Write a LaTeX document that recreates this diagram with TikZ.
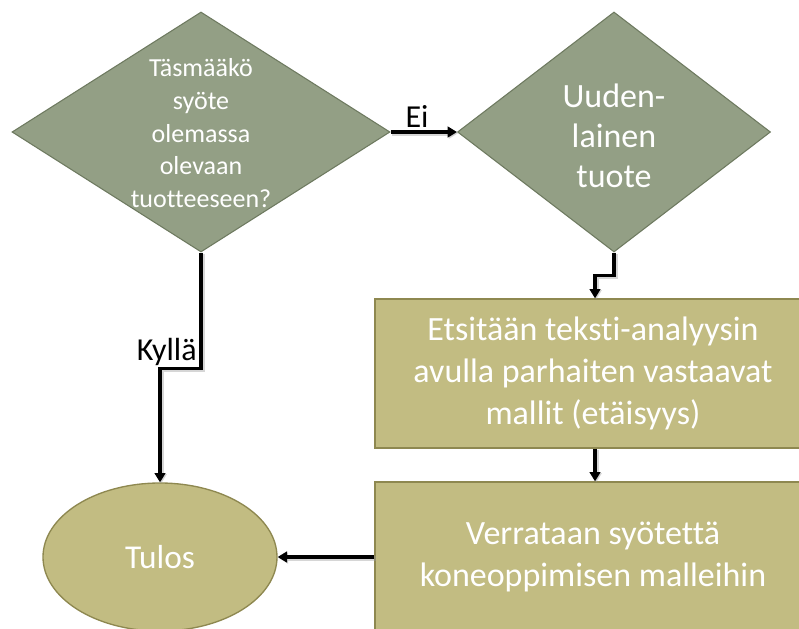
\documentclass[tikz,border=0pt]{standalone}
\usepackage{fontspec}
\setmainfont{Carlito}[Ligatures={NoCommon}]
\usetikzlibrary{shapes.geometric,arrows.meta}
\definecolor{diafill}{HTML}{939F85}
\definecolor{diaedge}{HTML}{6E7A60}
\definecolor{boxfill}{HTML}{C2BC82}
\definecolor{boxedge}{HTML}{8E8850}
\tikzset{
  dia/.style={diamond, draw=diaedge, fill=diafill, line width=0.8pt, inner sep=0pt},
  box/.style={rectangle, draw=boxedge, fill=boxfill, line width=1pt, inner sep=0pt,
    text=white, align=center, font=\fontsize{25.5}{31.5}\selectfont},
  ovalbox/.style={ellipse, draw=boxedge, fill=boxfill, line width=1pt, inner sep=0pt,
    text=white, font=\fontsize{25}{30}\selectfont},
  smalltxt/.style={text=white, align=center, font=\fontsize{19.5}{24.5}\selectfont},
  bigtxt/.style={text=white, align=center, font=\fontsize{25.5}{30}\selectfont},
  conn/.style={line width=2.6pt, -{Triangle[length=7pt,width=8pt]},
    preaction={draw=black!40, opacity=0.4, line width=3.6pt,
      transform canvas={shift={(0.9pt,-0.9pt)}}}},
  lbl/.style={text=black, inner sep=2pt, font=\fontsize{24}{28}\selectfont}
}
\begin{document}
\begin{tikzpicture}[x=0.75pt, y=-0.75pt]
  \useasboundingbox (0,0) rectangle (799,628);
  \clip (0,0) rectangle (799,628);

  \node[dia, minimum width=283.5pt, minimum height=180pt,
    label={[smalltxt, yshift=-1pt]center:Täsmääkö\\syöte\\olemassa\\olevaan\\tuotteeseen?}]
    (d1) at (201,132) {};
  \node[dia, minimum width=234.75pt, minimum height=180pt,
    label={[bigtxt, yshift=-3pt]center:Uuden-\\lainen\\tuote}]
    (d2) at (614,132) {};
  \node[box, minimum width=327pt, minimum height=111.75pt] (r1) at (593,373.5)
    {Etsitään teksti-analyysin\\avulla parhaiten vastaavat\\mallit (etäisyys)};
  \node[box, minimum width=327pt, minimum height=112.5pt] (r2) at (593,557)
    {Verrataan syötettä\\koneoppimisen malleihin};
  \node[ovalbox, minimum width=175.5pt, minimum height=111pt] (ell) at (160,557) {Tulos};

  \draw[conn] (d1.east) -- node[lbl, above, pos=0.4] {Ei} (d2.west);
  \draw[conn] (d2.south) -- ++(0,23) -| ([xshift=1.5pt]r1.north);
  \draw[conn] (d1.south) -- node[lbl, left, pos=0.86] {Kyllä} ++(0,116) -| (ell.north);
  \draw[conn] ([xshift=1.5pt]r1.south) -- ([xshift=1.5pt]r2.north);
  \draw[conn] (r2.west) -- (ell.east);
\end{tikzpicture}
\end{document}
